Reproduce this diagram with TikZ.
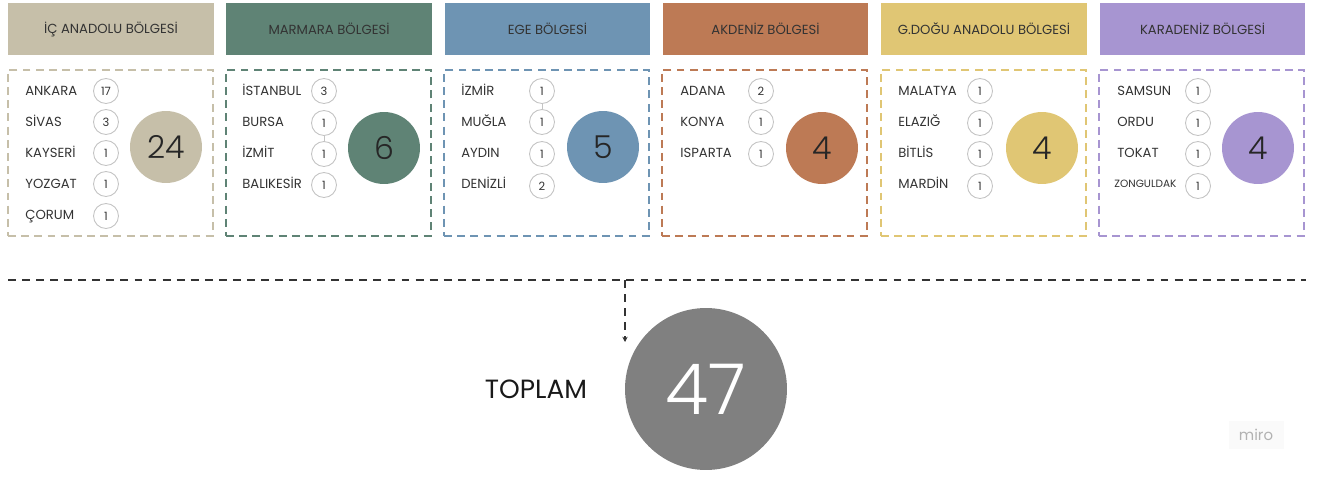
\documentclass[tikz,border=0pt]{standalone}
\usepackage{fontspec}
\setmainfont{Poppins}
\newfontfamily\lightfont{Poppins Light}
\usetikzlibrary{arrows.meta}

\definecolor{icanadolu}{HTML}{C6BFA9}
\definecolor{marmara}{HTML}{5F8375}
\definecolor{ege}{HTML}{6E94B3}
\definecolor{akdeniz}{HTML}{BD7A55}
\definecolor{gdogu}{HTML}{E0C674}
\definecolor{karadeniz}{HTML}{A795D1}
\definecolor{textgray}{HTML}{333333}
\definecolor{ringgray}{HTML}{C4C4C4}
\definecolor{totalgray}{HTML}{808080}

\tikzset{
	header/.style={fill=#1, minimum width=4.12cm, minimum height=1.04cm, inner sep=0pt, text=textgray, font=\fontsize{7.5}{9}\selectfont},
	panel/.style={draw=#1, dash pattern=on 4.5pt off 3pt, line width=0.8pt, minimum width=4.1cm, minimum height=3.32cm, inner sep=0pt},
	city/.style={anchor=west, inner sep=0pt, text height=5.3pt, text depth=0pt, text=textgray, font=\fontsize{7.5}{9}\selectfont},
	count/.style={circle, draw=ringgray, line width=0.5pt, fill=white, minimum size=0.5cm, inner sep=0pt, text=textgray, font=\fontsize{6.5}{8}\selectfont},
	sum/.style={circle, fill=#1, minimum size=1.44cm, inner sep=0pt, text=black!85, font=\lightfont\fontsize{18}{22}\selectfont},
	dashline/.style={draw=textgray, line width=0.85pt, dash pattern=on 4.5pt off 3.5pt},
}

\begin{document}
\begin{tikzpicture}[x=0.02cm, y=-0.02cm]
	\useasboundingbox (0,0) rectangle (1320,477);
	% headers
	\node[header=icanadolu] (h1) at (111,29) {İÇ ANADOLU BÖLGESİ};
	\node[header=marmara] (h2) at (329,29) {MARMARA BÖLGESİ};
	\node[header=ege] (h3) at (547.5,29) {EGE BÖLGESİ};
	\node[header=akdeniz] (h4) at (765.5,29) {AKDENİZ BÖLGESİ};
	\node[header=gdogu] (h5) at (984,29) {G.DOĞU ANADOLU BÖLGESİ};
	\node[header=karadeniz] (h6) at (1202.5,29) {KARADENİZ BÖLGESİ};
	% dashed panels
	\node[panel=icanadolu] (p1) at (110.5,153) {};
	\node[panel=marmara] (p2) at (328.5,153) {};
	\node[panel=ege] (p3) at (546.5,153) {};
	\node[panel=akdeniz] (p4) at (764.5,153) {};
	\node[panel=gdogu] (p5) at (983.5,153) {};
	\node[panel=karadeniz] (p6) at (1201.5,153) {};
	% ic anadolu
	\node[city] (c1a) at (25,91) {ANKARA};
	\node[city] (c1b) at (25,122) {SİVAS};
	\node[city] (c1c) at (25,153) {KAYSERİ};
	\node[city] (c1d) at (25,184) {YOZGAT};
	\node[city] (c1e) at (25,215) {ÇORUM};
	\node[count] (n1a) at (106,91) {17};
	\node[count] (n1b) at (106,122) {3};
	\node[count] (n1c) at (106,153) {1};
	\node[count] (n1d) at (106,184) {1};
	\node[count] (n1e) at (106,216) {1};
	\node[sum=icanadolu] (t1) at (166,147) {24};
	% marmara
	\node[city] (c2a) at (242,91) {İSTANBUL};
	\node[city] (c2b) at (242,122) {BURSA};
	\node[city] (c2c) at (242,153) {İZMİT};
	\node[city] (c2d) at (242,184) {BALIKESİR};
	\node[count] (n2a) at (324,91) {3};
	\node[count] (n2b) at (324,123) {1};
	\node[count] (n2c) at (324,154) {1};
	\node[count] (n2d) at (324,185) {1};
	\draw[ringgray, line width=0.4pt] (n2b) -- (n2c);
	\node[sum=marmara] (t2) at (384,148) {6};
	% ege
	\node[city] (c3a) at (461,91) {İZMİR};
	\node[city] (c3b) at (461,122) {MUĞLA};
	\node[city] (c3c) at (461,153) {AYDIN};
	\node[city] (c3d) at (461,184) {DENİZLİ};
	\node[count] (n3a) at (542,91) {1};
	\node[count] (n3b) at (542,122) {1};
	\node[count] (n3c) at (542,154) {1};
	\node[count] (n3d) at (542,186) {2};
	\draw[ringgray, line width=0.4pt] (n3a) -- (n3b);
	\node[sum=ege] (t3) at (603,147) {5};
	% akdeniz
	\node[city] (c4a) at (680,91) {ADANA};
	\node[city] (c4b) at (680,122) {KONYA};
	\node[city] (c4c) at (680,153) {ISPARTA};
	\node[count] (n4a) at (761,91) {2};
	\node[count] (n4b) at (761,122) {1};
	\node[count] (n4c) at (761,154) {1};
	\node[sum=akdeniz] (t4) at (822,148) {4};
	% g.dogu anadolu
	\node[city] (c5a) at (898,91) {MALATYA};
	\node[city] (c5b) at (898,122) {ELAZIĞ};
	\node[city] (c5c) at (898,153) {BİTLİS};
	\node[city] (c5d) at (898,184) {MARDİN};
	\node[count] (n5a) at (980,91) {1};
	\node[count] (n5b) at (980,123) {1};
	\node[count] (n5c) at (980,154) {1};
	\node[count] (n5d) at (980,186) {1};
	\node[sum=gdogu] (t5) at (1042,148) {4};
	% karadeniz
	\node[city] (c6a) at (1117,91) {SAMSUN};
	\node[city] (c6b) at (1117,122) {ORDU};
	\node[city] (c6c) at (1117,153) {TOKAT};
	\node[city, font=\fontsize{6}{7}\selectfont, text height=4.3pt] (c6d) at (1114,184) {ZONGULDAK};
	\node[count] (n6a) at (1198,91) {1};
	\node[count] (n6b) at (1198,123) {1};
	\node[count] (n6c) at (1198,154) {1};
	\node[count] (n6d) at (1198,186) {1};
	\node[sum=karadeniz] (t6) at (1258,148) {4};
	% total
	\coordinate (lineL) at (8,280);
	\coordinate (lineR) at (1306,280);
	\coordinate (split) at (625,280);
	\coordinate (drop) at (625,342);
	\draw[dashline] (lineL) -- (lineR);
	\draw[dashline, -{Stealth[length=3pt, width=3pt]}] (split) -- (drop);
	\node[circle, fill=totalgray, minimum size=3.24cm, inner sep=0pt, text=white, font=\lightfont\fontsize{40}{48}\selectfont] (total) at (706,389) {47};
	\node[text=black!90, font=\fontsize{15}{18}\selectfont] (toplam) at (536,389) {TOPLAM};
	\node[fill=black!2, text=black!30, minimum width=1.1cm, minimum height=0.55cm, font=\fontsize{8.5}{10}\selectfont] (miro) at (1256,435) {miro};
\end{tikzpicture}
\end{document}
